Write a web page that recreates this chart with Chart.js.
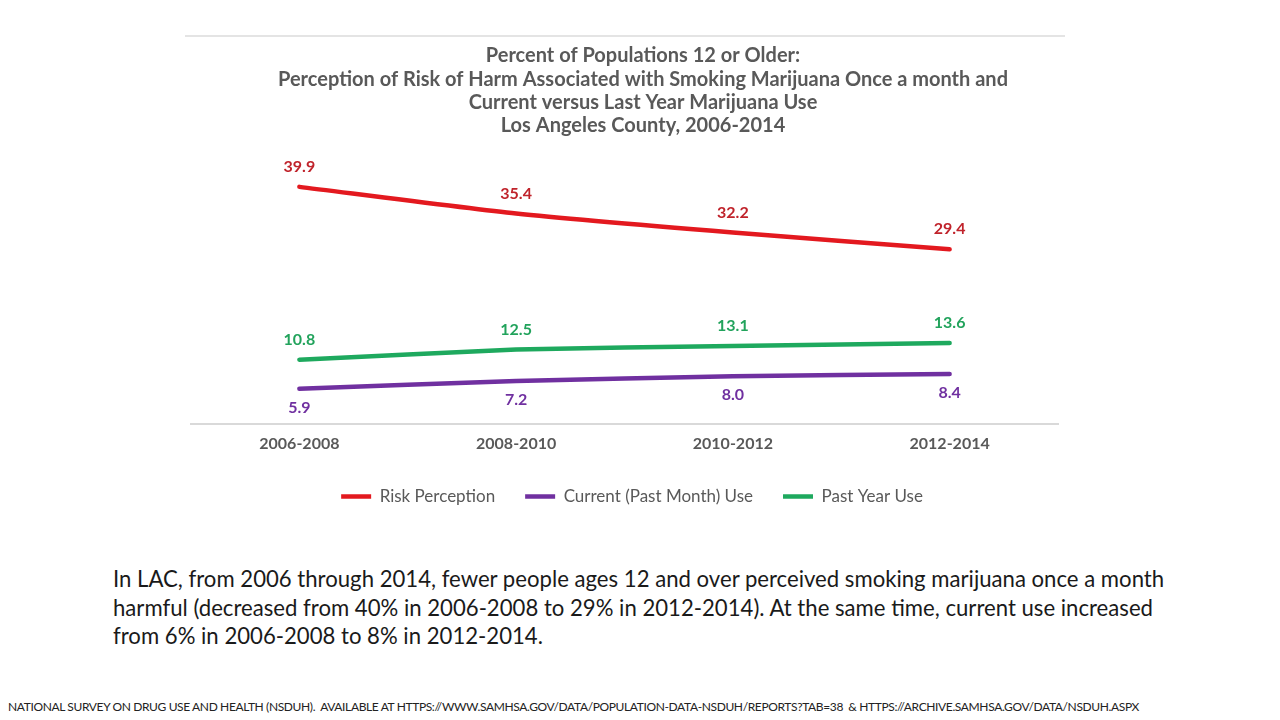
<!DOCTYPE html>
<html lang="en">
<head>
    <meta charset="UTF-8">
    <title>Marijuana Risk Perception - LAC</title>
    <script src="https://cdn.jsdelivr.net/npm/chart.js"></script>
    <style>
        body { margin: 0; width: 1280px; height: 720px; background: #fff; font-family: Lato, sans-serif; position: relative; overflow: hidden; }
        #topline { position: absolute; left: 185px; top: 35px; width: 880px; height: 0; border-top: 2px solid #e4e4e4; }
        #wrap { position: absolute; left: 185px; top: 36px; width: 916px; height: 490px; }
        #summary { position: absolute; left: 113px; top: 565px; font-size: 22.15px; line-height: 28.5px; color: #1a1a1a; margin: 0; }
        #source { position: absolute; left: 8px; top: 699px; font-size: 12px; color: #222; text-transform: uppercase; white-space: nowrap; letter-spacing: -0.37px; margin: 0; }
    </style>
</head>
<body>
    <div id="topline"></div>
    <div id="wrap"><canvas id="myChart"></canvas></div>
    <p id="summary">In LAC, from 2006 through 2014, fewer people ages 12 and over perceived smoking marijuana once a month<br>harmful (decreased from 40% in 2006-2008 to 29% in 2012-2014). At the same time, current use increased<br>from 6% in 2006-2008 to 8% in 2012-2014.</p>
    <p id="source">National Survey on Drug Use and Health (NSDUH).&nbsp; Available at https://www.samhsa.gov/data/population-data-nsduh/reports?tab=38&nbsp; &amp; https://archive.samhsa.gov/data/NSDUH.aspx</p>

    <script>
        // datos
        const periods = ['2006-2008', '2008-2010', '2010-2012', '2012-2014'];
        const riskPerception = [39.9, 35.4, 32.2, 29.4];
        const currentUse = [5.9, 7.2, 8.0, 8.4];
        const pastYearUse = [10.8, 12.5, 13.1, 13.6];

        // etiquetas de valores encima / debajo de cada punto
        const valueLabels = {
            id: 'valueLabels',
            afterDatasetsDraw(chart) {
                const ctx = chart.ctx;
                ctx.save();
                ctx.font = 'bold 16px Lato';
                ctx.textAlign = 'center';
                ctx.textBaseline = 'middle';
                chart.data.datasets.forEach((ds, i) => {
                    const meta = chart.getDatasetMeta(i);
                    ctx.fillStyle = ds.labelColor;
                    meta.data.forEach((pt, j) => {
                        ctx.fillText(ds.data[j].toFixed(1), pt.x, pt.y + ds.labelOffset);
                    });
                });
                ctx.restore();
            }
        };

        // la leyenda va un poco a la izquierda del titulo
        const legendShift = {
            id: 'legendShift',
            afterLayout(chart) {
                chart.legend.left -= 11;
                chart.legend.right -= 11;
            }
        };

        // ejes invisibles que solo reservan margen a los lados
        const spacer = (w, pos) => ({
            position: pos,
            display: true,
            grid: { display: false },
            border: { display: false },
            ticks: { display: false },
            afterFit(scale) { scale.width = w; }
        });

        const ctx = document.getElementById('myChart').getContext('2d');
        const myChart = new Chart(ctx, {
            type: 'line',
            data: {
                labels: periods,
                datasets: [{
                    label: 'Risk Perception',
                    data: riskPerception,
                    borderColor: '#e3191f',
                    backgroundColor: '#e3191f',
                    labelColor: '#c0232b',
                    labelOffset: -20
                }, {
                    label: 'Current (Past Month) Use',
                    data: currentUse,
                    borderColor: '#7030a0',
                    backgroundColor: '#7030a0',
                    labelColor: '#7030a0',
                    labelOffset: 19
                }, {
                    label: 'Past Year Use',
                    data: pastYearUse,
                    borderColor: '#1ea95e',
                    backgroundColor: '#1ea95e',
                    labelColor: '#22a35c',
                    labelOffset: -20
                }]
            },
            options: {
                responsive: true,
                maintainAspectRatio: false,
                animation: false,
                datasets: {
                    line: {
                        borderWidth: 4.5,
                        borderCapStyle: 'round',
                        pointRadius: 0,
                        tension: 0.2
                    }
                },
                layout: {
                    padding: { bottom: 11 }
                },
                plugins: {
                    title: {
                        display: true,
                        text: [
                            'Percent of Populations 12 or Older:',
                            'Perception of Risk of Harm Associated with Smoking Marijuana Once a month and',
                            'Current versus Last Year Marijuana Use',
                            'Los Angeles County, 2006-2014'
                        ],
                        color: '#595959',
                        font: { family: 'Lato', size: 20, weight: 'bold', lineHeight: 1.17 },
                        padding: { top: 8, bottom: 19 }
                    },
                    legend: {
                        position: 'bottom',
                        labels: {
                            usePointStyle: true,
                            pointStyle: 'line',
                            pointStyleWidth: 30,
                            padding: 30,
                            color: '#595959',
                            font: { family: 'Lato', size: 17 }
                        }
                    },
                    tooltip: { enabled: false }
                },
                scales: {
                    x: {
                        offset: true,
                        grid: { display: false },
                        border: { color: '#d9d9d9', width: 2 },
                        ticks: {
                            color: '#595959',
                            padding: 2,
                            font: { family: 'Lato', size: 16, weight: 'bold' }
                        },
                        afterFit(scale) { scale.height += 3; }
                    },
                    y: Object.assign(spacer(6, 'left'), { min: 0, max: 45 }),
                    yRight: spacer(43, 'right')
                }
            },
            plugins: [valueLabels, legendShift]
        });
    </script>
</body>
</html>
